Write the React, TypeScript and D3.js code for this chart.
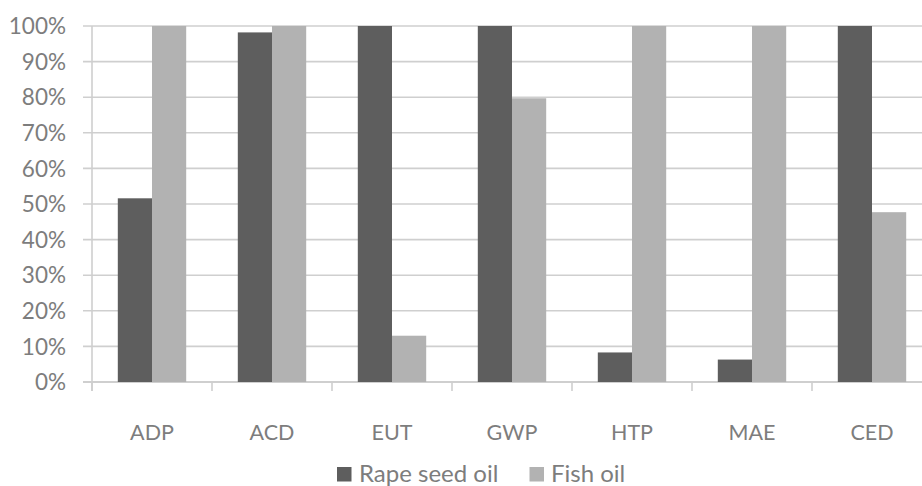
import * as d3 from 'd3'

const categories = ['ADP', 'ACD', 'EUT', 'GWP', 'HTP', 'MAE', 'CED']
const seriesNames = ['Rape seed oil', 'Fish oil']
const rapeSeedOil = [0.516, 0.982, 1, 1, 0.083, 0.063, 1]
const fishOil = [1, 1, 0.13, 0.797, 1, 1, 0.477]
const yTicks = [0, 0.1, 0.2, 0.3, 0.4, 0.5, 0.6, 0.7, 0.8, 0.9, 1]

const colors = ['#5e5e5e', '#b2b2b2']
const gridColor = '#cfcfcf'
const textColor = '#7d7d7d'
const font = 'Lato, "Open Sans", sans-serif'

const W = 922
const H = 486

function App() {
    const x = d3
        .scaleBand()
        .domain(categories)
        .range([92, 932])
        .paddingInner(0.43)
        .paddingOuter(0.215)

    const xs = d3
        .scaleBand()
        .domain(seriesNames)
        .range([0, x.bandwidth()])

    const y = d3.scaleLinear().domain([0, 1]).range([382, 26])

    const values = [rapeSeedOil, fishOil]
    const step = x.step()
    const gap = (step - x.bandwidth()) / 2
    const boundaries = categories.map((c) => x(c) - gap)
    boundaries.push(x(categories[categories.length - 1]) + x.bandwidth() + gap)

    const fmt = d3.format('.0%')

    return (
        <svg
            width={W}
            height={H}
            style={{ position: 'fixed', left: 0, top: 0, background: '#fff' }}
        >
            {/* grid lines + y labels */}
            {yTicks.map((t) => (
                <g key={t}>
                    <line
                        x1={83}
                        x2={W}
                        y1={y(t)}
                        y2={y(t)}
                        stroke={gridColor}
                        strokeWidth={t === 0 ? 2 : 1.6}
                    />
                    <text
                        x={66}
                        y={y(t)}
                        dy="0.36em"
                        textAnchor="end"
                        fontFamily={font}
                        fontSize={22.5}
                        fill={textColor}
                    >
                        {fmt(t)}
                    </text>
                </g>
            ))}
            <line x1={92} x2={92} y1={y(1)} y2={391} stroke={gridColor} strokeWidth={1.6} />
            {boundaries.map((b, i) => (
                <line
                    key={i}
                    x1={b}
                    x2={b}
                    y1={y(0)}
                    y2={391}
                    stroke={gridColor}
                    strokeWidth={1.6}
                />
            ))}

            {/* bars */}
            {categories.map((c, i) => (
                <g key={c} transform={`translate(${x(c)},0)`}>
                    {seriesNames.map((s, j) => (
                        <rect
                            key={s}
                            x={xs(s)}
                            width={xs.bandwidth()}
                            y={y(values[j][i])}
                            height={y(0) - y(values[j][i])}
                            fill={colors[j]}
                        />
                    ))}
                    <text
                        x={x.bandwidth() / 2}
                        y={440}
                        textAnchor="middle"
                        fontFamily={font}
                        fontSize={21.5}
                        fill={textColor}
                    >
                        {c}
                    </text>
                </g>
            ))}

            {/* legend */}
            <g>
                <rect x={337} y={467} width={14.5} height={14.5} fill={colors[0]} />
                <text x={359} y={482} fontFamily={font} fontSize={24} fill={textColor}>
                    {seriesNames[0]}
                </text>
                <rect x={529.5} y={467} width={14.5} height={14.5} fill={colors[1]} />
                <text x={551} y={482} fontFamily={font} fontSize={24} fill={textColor}>
                    {seriesNames[1]}
                </text>
            </g>
        </svg>
    )
}

export default App
